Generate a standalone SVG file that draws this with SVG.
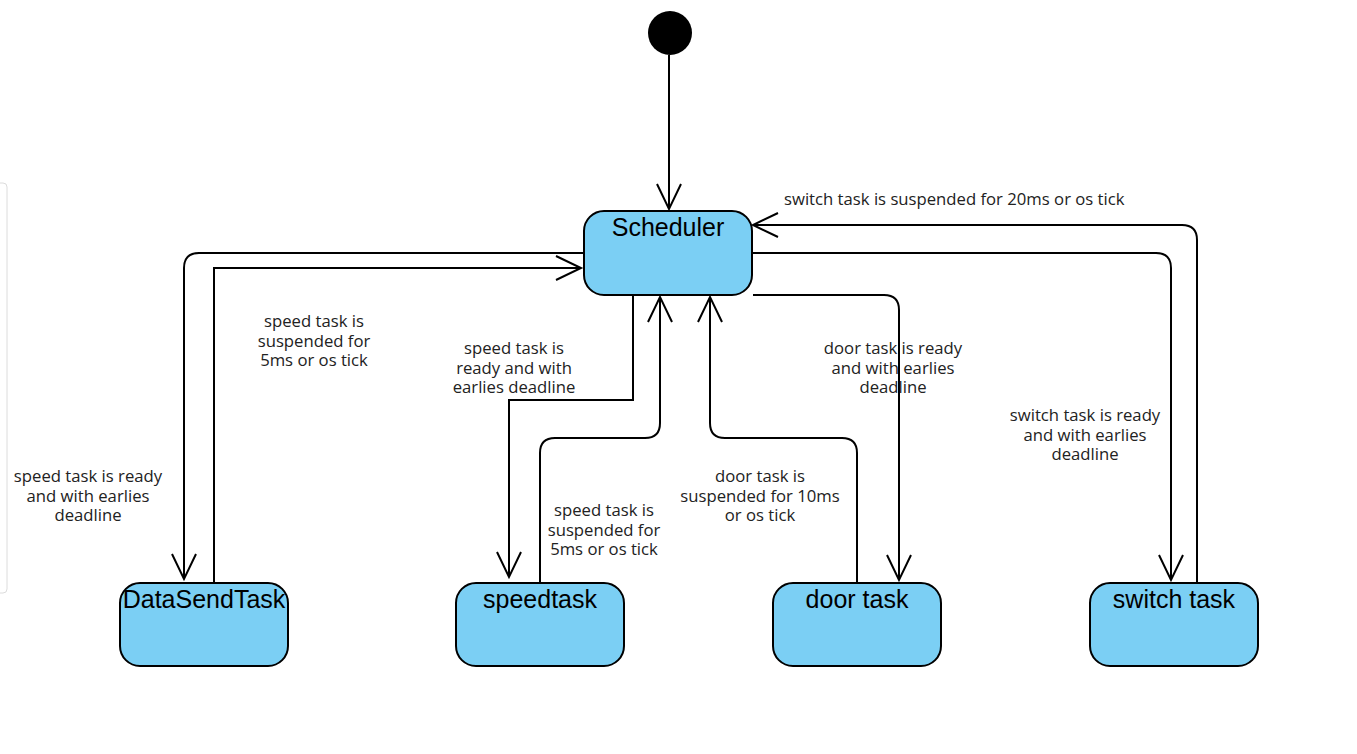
<svg xmlns="http://www.w3.org/2000/svg" width="1357" height="754" viewBox="0 0 1357 754">
<defs>
<marker id="arr" markerUnits="userSpaceOnUse" markerWidth="40" markerHeight="40" viewBox="-30 -20 40 40" refX="0" refY="0" orient="auto" overflow="visible">
<path d="M -25 -12 L 0 0 L -25 12" fill="none" stroke="#000" stroke-width="2"/>
</marker>
</defs>
<style>
.node rect{fill:#7bcff4;stroke:#000;stroke-width:2}
.node text{font-family:"Liberation Sans",Arial,sans-serif;font-size:25px;fill:#000;text-anchor:middle}
.conn path{fill:none;stroke:#000;stroke-width:2;marker-end:url(#arr)}
.lbl{font-family:"Open Sans","Noto Sans",sans-serif;font-size:16.7px;fill:#222;text-anchor:middle}
</style>
<rect width="1357" height="754" fill="#fff"/>
<rect x="-6" y="183" width="13" height="410" rx="4" fill="none" stroke="#dcdcdc" stroke-width="1"/>
<g id="start"><circle cx="670" cy="33" r="22" fill="#000"/></g>
<g id="scheduler" class="node"><rect x="584" y="211" width="168" height="84" rx="20"/><text x="668" y="236">Scheduler</text></g>
<g id="datasendtask" class="node"><rect x="120" y="583" width="168" height="83" rx="20"/><text x="204" y="608">DataSendTask</text></g>
<g id="speedtask" class="node"><rect x="456" y="583" width="168" height="83" rx="20"/><text x="540" y="608">speedtask</text></g>
<g id="doortask" class="node"><rect x="773" y="583" width="168" height="83" rx="20"/><text x="857" y="608">door task</text></g>
<g id="switchtask" class="node"><rect x="1090" y="583" width="168" height="83" rx="20"/><text x="1174" y="608">switch task</text></g>
<g id="connectors" class="conn">
<path d="M 669 55 V 209"/>
<path d="M 584 253 H 199 Q 184 253 184 268 V 579"/>
<path d="M 214 583 V 268 H 581"/>
<path d="M 633 296 V 400 H 509 V 577"/>
<path d="M 540 583 V 453 Q 540 438 555 438 H 645 Q 660 438 660 423 V 297"/>
<path d="M 857 583 V 453 Q 857 438 842 438 H 725 Q 710 438 710 423 V 297"/>
<path d="M 753 295 H 884 Q 899 295 899 310 V 580"/>
<path d="M 752 253 H 1156 Q 1171 253 1171 268 V 580"/>
<path d="M 1197 583 V 240 Q 1197 225 1182 225 H 753"/>
</g>
<g id="labels">
<text class="lbl" y="327"><tspan x="314">speed task is</tspan><tspan x="314" dy="20">suspended for</tspan><tspan x="314" dy="19">5ms or os tick</tspan></text>
<text class="lbl" y="354"><tspan x="514">speed task is</tspan><tspan x="514" dy="20">ready and with</tspan><tspan x="514" dy="19">earlies deadline</tspan></text>
<text class="lbl" y="354"><tspan x="893">door task is ready</tspan><tspan x="893" dy="20">and with earlies</tspan><tspan x="893" dy="19">deadline</tspan></text>
<text class="lbl" y="421"><tspan x="1085">switch task is ready</tspan><tspan x="1085" dy="20">and with earlies</tspan><tspan x="1085" dy="19">deadline</tspan></text>
<text class="lbl" y="482"><tspan x="88">speed task is ready</tspan><tspan x="88" dy="20">and with earlies</tspan><tspan x="88" dy="19">deadline</tspan></text>
<text class="lbl" y="516"><tspan x="604">speed task is</tspan><tspan x="604" dy="20">suspended for</tspan><tspan x="604" dy="19">5ms or os tick</tspan></text>
<text class="lbl" y="482"><tspan x="760">door task is</tspan><tspan x="760" dy="20">suspended for 10ms</tspan><tspan x="760" dy="19">or os tick</tspan></text>
<text class="lbl" x="784" y="205" style="text-anchor:start">switch task is suspended for 20ms or os tick</text>
</g>
</svg>
